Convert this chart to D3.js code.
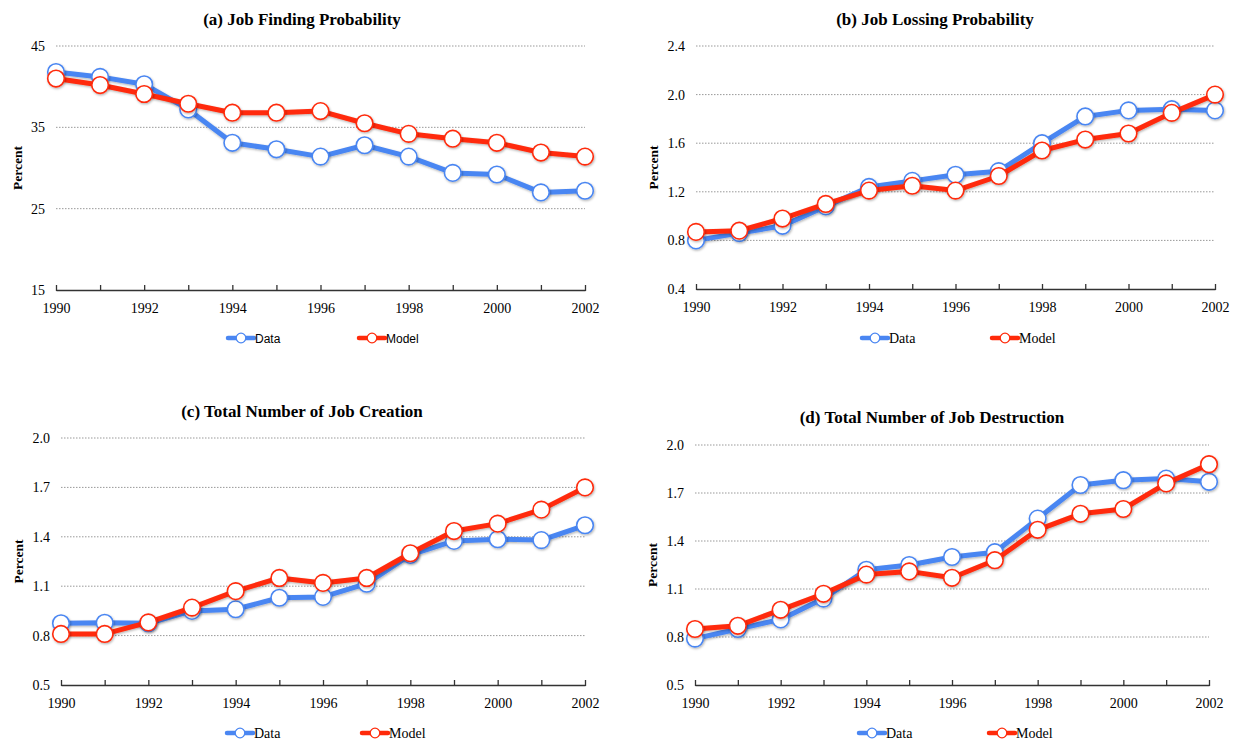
<!DOCTYPE html>
<html>
<head>
<meta charset="utf-8">
<script src="https://cdn.jsdelivr.net/npm/d3@7"></script>
<style>
  body { margin: 0; background: #fff; }
  text { fill: #000; }
</style>
</head>
<body>
<svg id="chart" width="1243" height="745"></svg>
<script>
// years on the x axis
var years = [1990, 1991, 1992, 1993, 1994, 1995, 1996, 1997, 1998, 1999, 2000, 2001, 2002];
var yearTicks = [1990, 1992, 1994, 1996, 1998, 2000, 2002];

// (a) job finding probability
var findData  = [41.8, 41.2, 40.3, 37.2, 33.1, 32.3, 31.4, 32.8, 31.4, 29.4, 29.2, 27.0, 27.2];
var findModel = [41.0, 40.2, 39.1, 37.9, 36.8, 36.8, 37.0, 35.5, 34.2, 33.6, 33.1, 31.9, 31.4];
var findTicks = [15, 25, 35, 45];

// (b) job losing probability
var loseData  = [0.80, 0.86, 0.92, 1.08, 1.24, 1.29, 1.34, 1.37, 1.60, 1.82, 1.87, 1.88, 1.87];
var loseModel = [0.87, 0.88, 0.98, 1.10, 1.21, 1.25, 1.21, 1.33, 1.54, 1.63, 1.68, 1.85, 2.00];
var loseTicks = [0.4, 0.8, 1.2, 1.6, 2.0, 2.4];

// (c) total job creation
var createData  = [0.875, 0.878, 0.875, 0.95, 0.96, 1.03, 1.035, 1.115, 1.29, 1.375, 1.385, 1.38, 1.47];
var createModel = [0.81, 0.81, 0.88, 0.97, 1.07, 1.15, 1.12, 1.15, 1.30, 1.435, 1.48, 1.565, 1.70];
var createTicks = [0.5, 0.8, 1.1, 1.4, 1.7, 2.0];

// (d) total job destruction
var destroyData  = [0.79, 0.85, 0.91, 1.04, 1.22, 1.25, 1.30, 1.33, 1.54, 1.75, 1.78, 1.79, 1.77];
var destroyModel = [0.85, 0.87, 0.97, 1.07, 1.19, 1.21, 1.17, 1.28, 1.47, 1.57, 1.60, 1.76, 1.88];
var destroyTicks = [0.5, 0.8, 1.1, 1.4, 1.7, 2.0];

var blue = '#4a86f2';
var red = '#ff2a0a';
var serif = '"Liberation Serif", "DejaVu Serif", serif';

var svg = d3.select("#chart");

var defs = svg.append("defs");
defs.append("filter").attr("id", "shadow")
    .attr("x", "-50%").attr("y", "-50%").attr("width", "200%").attr("height", "200%")
  .append("feDropShadow")
    .attr("dx", 0.8).attr("dy", 1.2).attr("stdDeviation", 1.2)
    .attr("flood-color", "#000").attr("flood-opacity", 0.3);

var panels = [
  {title: "(a) Job Finding Probability", data: findData, model: findModel, ticks: findTicks, fmt: d3.format("d"),
   left: 56, right: 585, top: 46, bottom: 290, titleX: 302, titleY: 25, labelX: 17,
   legendY: 338, legendData: 228, legendModel: 359, legendFont: '"Liberation Sans", Arial, sans-serif', legendSize: 12},
  {title: "(b) Job Lossing Probability", data: loseData, model: loseModel, ticks: loseTicks, fmt: d3.format(".1f"),
   left: 696, right: 1215, top: 46, bottom: 289, titleX: 935, titleY: 25, labelX: 653,
   legendY: 338, legendData: 862, legendModel: 992, legendFont: serif, legendSize: 14},
  {title: "(c) Total Number of Job Creation", data: createData, model: createModel, ticks: createTicks, fmt: d3.format(".1f"),
   left: 61, right: 585, top: 438, bottom: 685, titleX: 302, titleY: 417, labelX: 18,
   legendY: 733, legendData: 227, legendModel: 362, legendFont: serif, legendSize: 14},
  {title: "(d) Total Number of Job Destruction", data: destroyData, model: destroyModel, ticks: destroyTicks, fmt: d3.format(".1f"),
   left: 695, right: 1209, top: 445, bottom: 685, titleX: 932, titleY: 423, labelX: 652,
   legendY: 733, legendData: 859, legendModel: 989, legendFont: serif, legendSize: 14}
];

panels.forEach(function(p) {
  var g = svg.append("g");

  var x = d3.scaleLinear().domain([1990, 2002]).range([p.left, p.right]);
  var y = d3.scaleLinear().domain([p.ticks[0], p.ticks[p.ticks.length - 1]]).range([p.bottom, p.top]);

  // title
  g.append("text")
    .attr("x", p.titleX).attr("y", p.titleY)
    .attr("text-anchor", "middle")
    .style("font-family", serif).style("font-weight", "bold").style("font-size", "17px")
    .text(p.title);

  // dotted gridlines
  g.selectAll(".grid").data(p.ticks.slice(1)).enter().append("line")
    .attr("x1", p.left).attr("x2", p.right)
    .attr("y1", function(d) { return y(d); }).attr("y2", function(d) { return y(d); })
    .attr("stroke", "#999").attr("stroke-width", 1).attr("stroke-dasharray", "1.5,1.5");

  // y tick labels
  var yAxis = g.append("g")
    .attr("transform", "translate(" + p.left + ",0)")
    .call(d3.axisLeft(y).tickValues(p.ticks).tickFormat(p.fmt).tickSize(0).tickPadding(11));
  yAxis.select(".domain").remove();
  yAxis.selectAll("text").style("font-family", serif).style("font-size", "14px").attr("fill", "#000");

  // x axis with small ticks on each year
  var xAxis = g.append("g")
    .attr("transform", "translate(0," + p.bottom + ")")
    .call(d3.axisBottom(x).tickValues(years).tickSize(0).tickPadding(13)
      .tickFormat(function(d) { return yearTicks.indexOf(d) >= 0 ? d : ""; }));
  xAxis.select(".domain").attr("stroke", "#333").attr("stroke-width", 1.6);
  xAxis.selectAll(".tick line").attr("y1", -5).attr("y2", 1).attr("stroke", "#333").attr("stroke-width", 1.3);
  xAxis.selectAll("text").style("font-family", serif).style("font-size", "14px").attr("fill", "#000");

  // y axis title
  g.append("text")
    .attr("transform", "translate(" + (p.labelX + 5) + "," + ((p.top + p.bottom) / 2) + ") rotate(-90)")
    .attr("text-anchor", "middle")
    .style("font-family", serif).style("font-weight", "bold").style("font-size", "13.5px")
    .text("Percent");

  var line = d3.line()
    .x(function(d, i) { return x(years[i]); })
    .y(function(d) { return y(d); });

  [[p.data, blue], [p.model, red]].forEach(function(s) {
    g.append("path")
      .attr("d", line(s[0]))
      .attr("fill", "none").attr("stroke", s[1]).attr("stroke-width", 5)
      .attr("stroke-linejoin", "round")
      .attr("filter", "url(#shadow)");
    g.selectAll(null).data(s[0]).enter().append("circle")
      .attr("cx", function(d, i) { return x(years[i]); })
      .attr("cy", function(d) { return y(d); })
      .attr("r", 8.3)
      .attr("fill", "#fff").attr("stroke", s[1]).attr("stroke-width", 1.6)
      .attr("filter", "url(#shadow)");
  });

  // legend
  [["Data", blue, p.legendData], ["Model", red, p.legendModel]].forEach(function(l) {
    var lg = g.append("g");
    lg.append("line")
      .attr("x1", l[2]).attr("x2", l[2] + 26)
      .attr("y1", p.legendY).attr("y2", p.legendY)
      .attr("stroke", l[1]).attr("stroke-width", 4.5).attr("stroke-linecap", "round");
    lg.append("circle")
      .attr("cx", l[2] + 13).attr("cy", p.legendY).attr("r", 4.8)
      .attr("fill", "#fff").attr("stroke", l[1]).attr("stroke-width", 1.3);
    lg.append("text")
      .attr("x", l[2] + 27).attr("y", p.legendY + 5)
      .style("font-family", p.legendFont)
      .style("font-size", p.legendSize + "px")
      .text(l[0]);
  });
});
</script>
</body>
</html>
